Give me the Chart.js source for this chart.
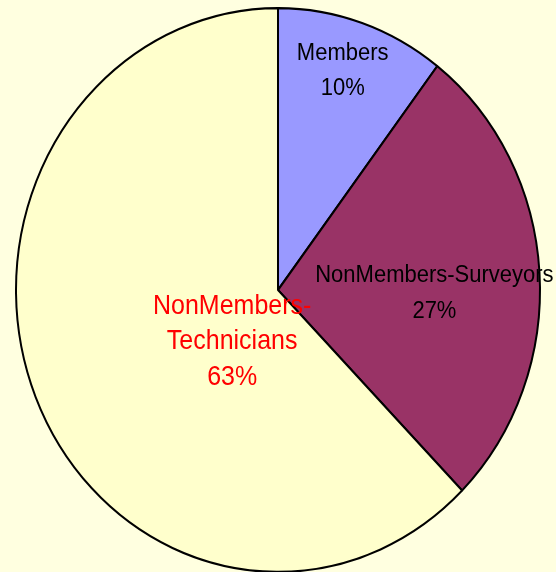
<!DOCTYPE html>
<html lang="en">
<head>
    <meta charset="UTF-8" />
    <title>Members pie</title>
    <script src="https://cdn.jsdelivr.net/npm/chart.js@4.4.1/dist/chart.umd.min.js"></script>
    <style>
        body { margin: 0; background: #FFFFE0; }
        canvas { display: block; }
    </style>
</head>
<body>
    <canvas id="myChart" width="556" height="572"></canvas>
    <script>
        // data
        let categories = ['Members', 'NonMembers-Surveyors', 'NonMembers-Technicians']
        let shares = [10.4, 27.2, 62.4]
        let pctLabels = ['10%', '27%', '63%']
        let sliceColors = ['#9999FF', '#993366', '#FFFFCC']

        // label look: where each sits (fraction of radius from centre), colour, size, wrap
        let labelSpots = [[0.247, -0.777], [0.597, 0.012], [-0.175, 0.184]]
        let labelColors = ['#000000', '#000000', '#FF0000']
        let labelSizes = [22, 22, 25]
        let labelWrap = [false, false, true]

        // pie in the picture is a bit taller than wide
        const stretchY = 283 / 263

        function squash(ctx, x, y) {
            ctx.translate(x, y)
            ctx.scale(1, stretchY)
            ctx.translate(-x, -y)
        }

        const ellipsePlugin = {
            id: 'ellipse',
            beforeDatasetsDraw(chart) {
                let arc = chart.getDatasetMeta(0).data[0]
                chart.ctx.save()
                squash(chart.ctx, arc.x, arc.y)
            },
            afterDatasetsDraw(chart) {
                chart.ctx.restore()
            }
        }

        const labelPlugin = {
            id: 'sliceLabels',
            afterDraw(chart) {
                let ctx = chart.ctx
                let meta = chart.getDatasetMeta(0)
                meta.data.forEach((arc, i) => {
                    let r = arc.outerRadius
                    let x = arc.x + labelSpots[i][0] * r
                    // y spot is a fraction of the (stretched) vertical radius
                    let dy = labelSpots[i][1] * r
                    let name = categories[i]
                    let lines = labelWrap[i] ? name.replace('-', '-\n').split('\n') : [name]
                    lines.push(pctLabels[i])
                    ctx.save()
                    squash(ctx, arc.x, arc.y)
                    ctx.fillStyle = labelColors[i]
                    ctx.font = labelSizes[i] + 'px "Liberation Sans", Arial, sans-serif'
                    ctx.textAlign = 'center'
                    ctx.textBaseline = 'middle'
                    let step = 32.8
                    let yy = arc.y + dy - step * (lines.length - 1) / 2
                    lines.forEach((ln, k) => ctx.fillText(ln, x, yy + k * step))
                    ctx.restore()
                })
            }
        }

        let ctx = document.getElementById('myChart').getContext('2d')
        let chart = new Chart(ctx, {
            type: 'pie',
            data: {
                labels: categories,
                datasets: [{
                    data: shares,
                    backgroundColor: sliceColors,
                    borderColor: '#000000',
                    borderWidth: 2
                }]
            },
            options: {
                responsive: false,
                animation: false,
                layout: { padding: { left: 15, right: 15, top: 27, bottom: 19 } },
                plugins: {
                    legend: { display: false },
                    tooltip: { enabled: false }
                }
            },
            plugins: [ellipsePlugin, labelPlugin]
        })
    </script>
</body>
</html>
